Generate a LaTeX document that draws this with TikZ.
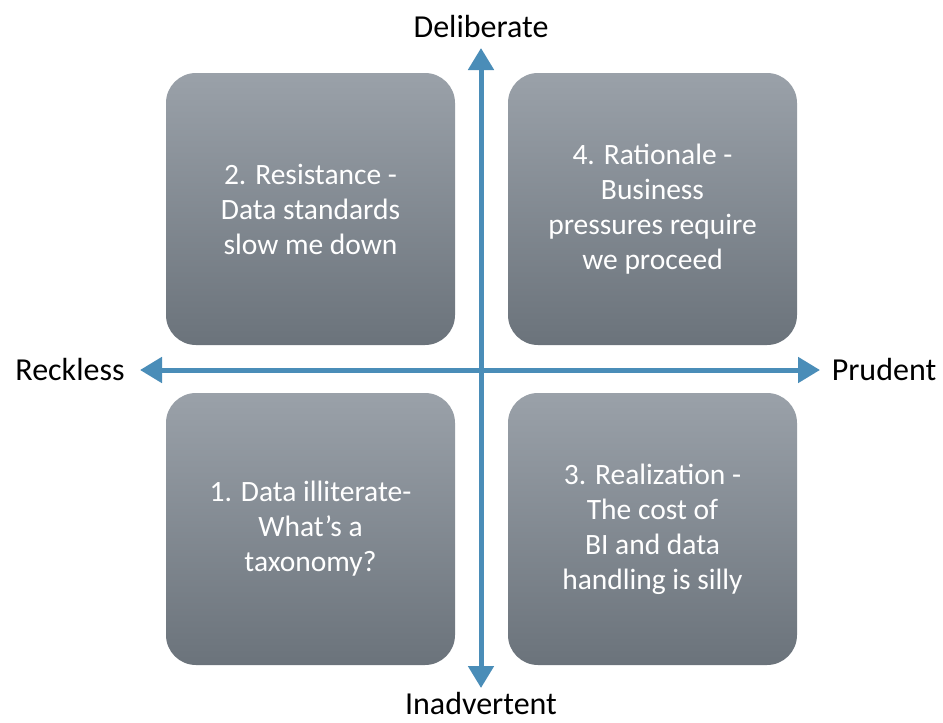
\documentclass[tikz,border=0pt]{standalone}
\usepackage{fontspec}
\setmainfont{Carlito}
\usetikzlibrary{arrows.meta}
\definecolor{axisblue}{HTML}{4A8DB8}
\definecolor{boxtop}{HTML}{9AA1A9}
\definecolor{boxbot}{HTML}{6B737B}
\tikzset{
  quad/.style={rectangle, rounded corners=30pt, minimum width=289pt, minimum height=272pt,
    top color=boxtop, bottom color=boxbot, draw=none, text=white, align=center,
    font=\fontsize{29.5}{35}\selectfont, inner sep=0pt},
  axislabel/.style={font=\fontsize{32}{38}\selectfont, text=black, inner sep=0pt},
  axisline/.style={draw=axisblue, line width=5pt, {Triangle[width=25pt,length=22pt]}-{Triangle[width=25pt,length=22pt]}}
}
\begin{document}
\begin{tikzpicture}[x=1pt,y=-1pt]
\useasboundingbox[fill=white] (0,0) rectangle (943,723);
\node[quad] (q2) at (310.5,209) {2. Resistance -\\Data standards\\slow me down};
\node[quad] (q4) at (652.5,209) {4. Rationale -\\Business\\pressures require\\we proceed};
\node[quad] (q1) at (310.5,529) {1. Data illiterate-\\What’s a\\taxonomy?};
\node[quad] (q3) at (652.5,529) {3. Realization -\\The cost of\\BI and data\\handling is silly};
\coordinate (vtop) at (481,48);
\coordinate (vbot) at (481,688);
\coordinate (hleft) at (140,370);
\coordinate (hright) at (820,370);
\draw[axisline] (vtop) -- (vbot);
\draw[axisline] (hleft) -- (hright);
\node[axislabel] (del) at (481,27) {Deliberate};
\node[axislabel, anchor=base] (inad) at (481,714) {Inadvertent};
\node[axislabel] (reck) at (70,370) {Reckless};
\node[axislabel] (prud) at (884,370) {Prudent};
\end{tikzpicture}
\end{document}
